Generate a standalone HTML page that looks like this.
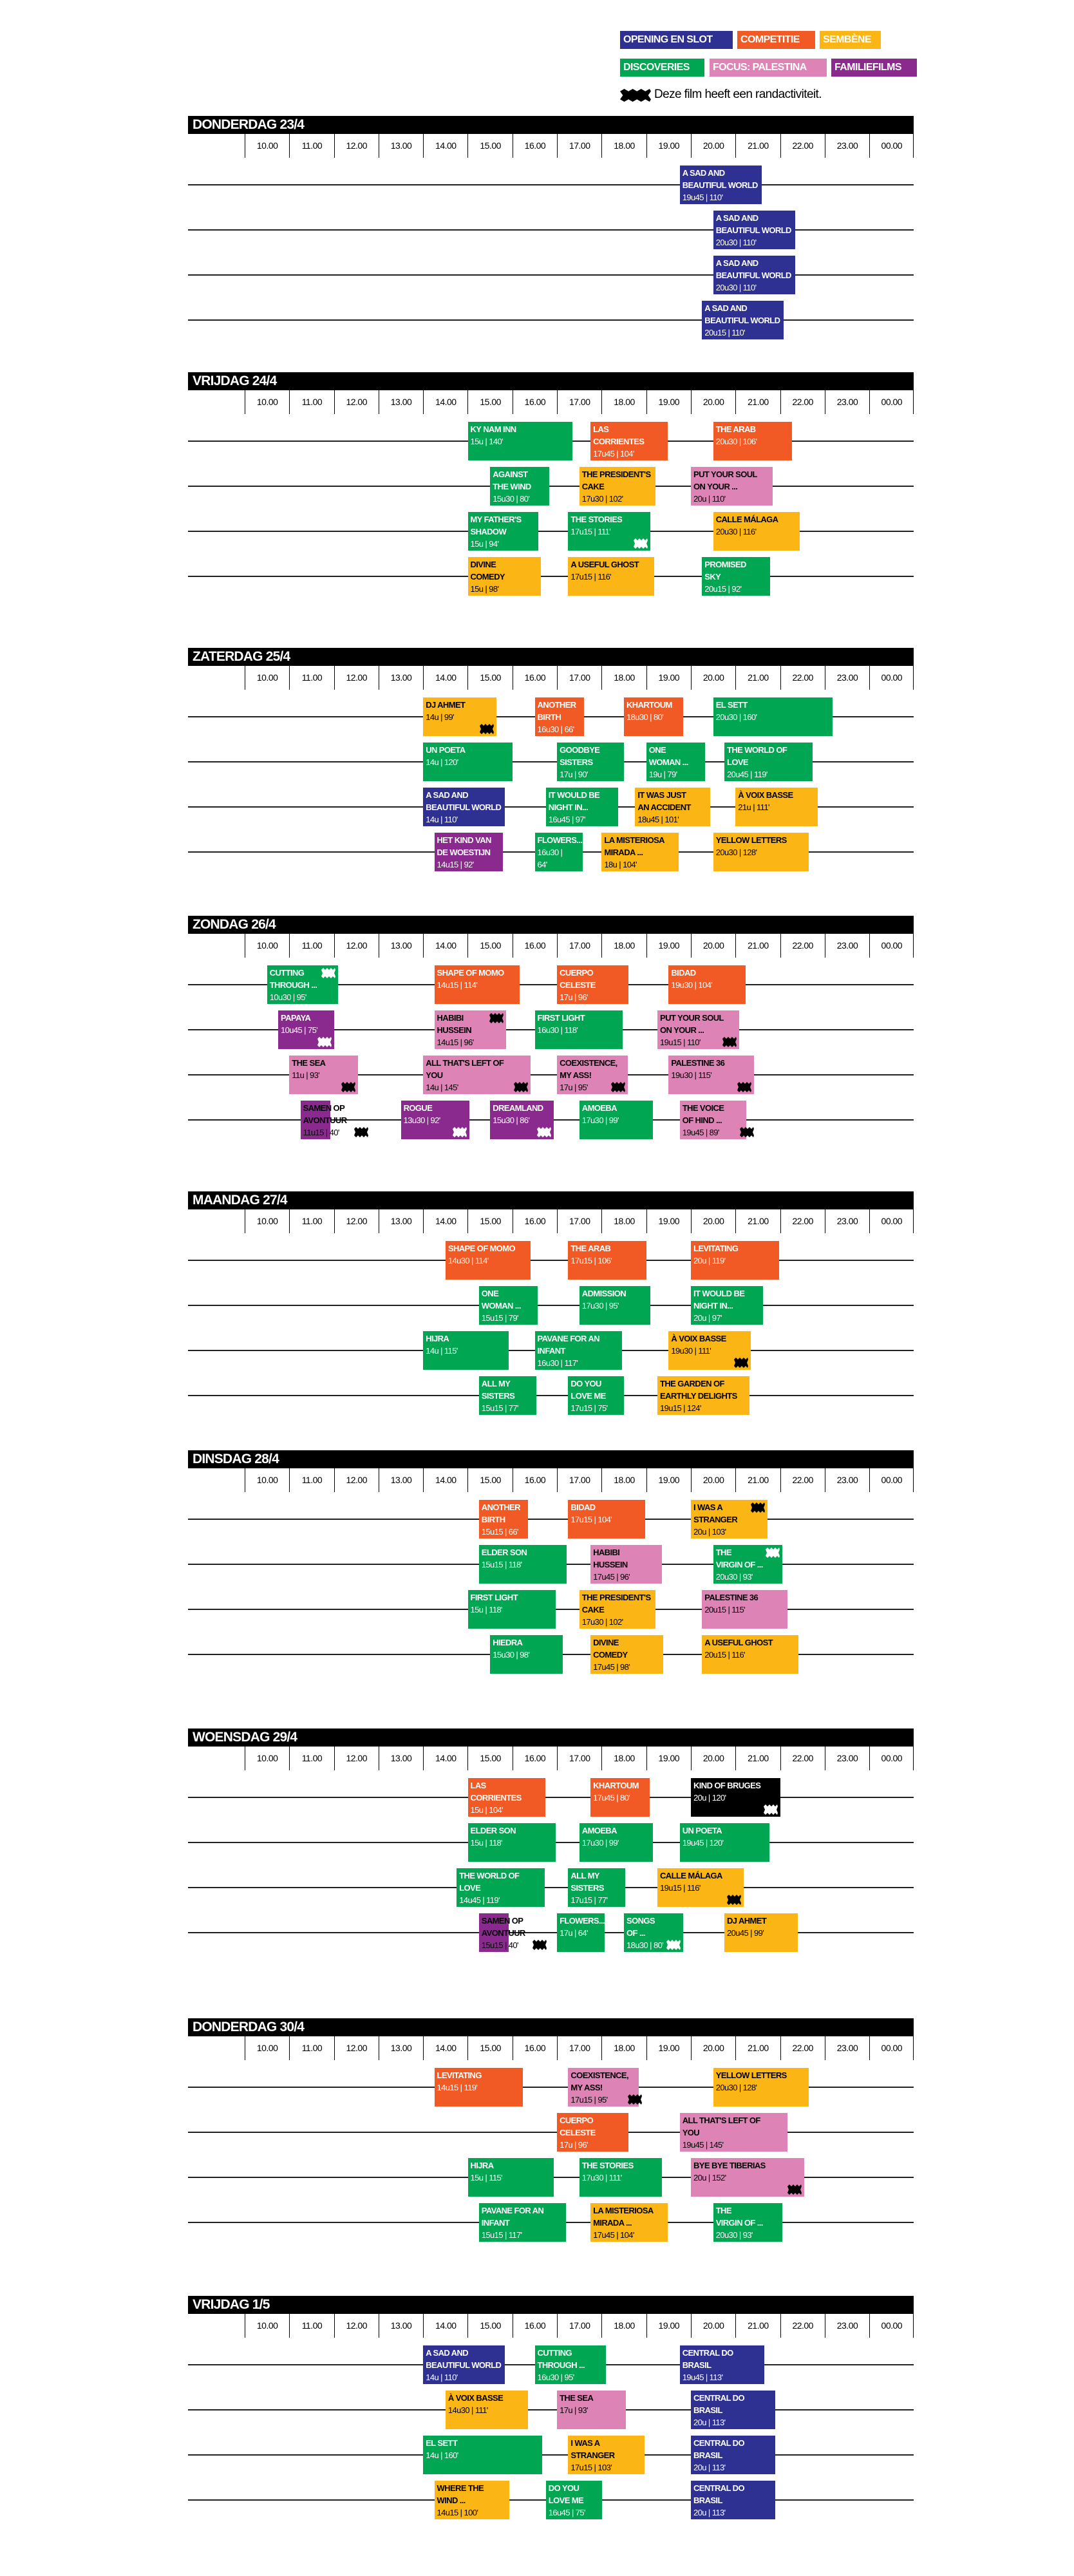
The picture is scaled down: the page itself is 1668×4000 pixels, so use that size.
<!DOCTYPE html>
<html><head><meta charset="utf-8">
<style>
*{margin:0;padding:0;box-sizing:border-box}
body{width:1668px;height:4000px;background:#fff;position:relative;overflow:hidden;font-family:"Liberation Sans Narrow","Liberation Sans",sans-serif}
.lg{position:absolute;height:28px;color:#fff;font-weight:bold;font-size:16px;letter-spacing:-0.6px;line-height:28px;padding-left:5px;white-space:nowrap}
.day{position:absolute;left:292px;width:1127px;height:420px}
.bar{position:absolute;left:0;top:0;width:1127px;height:28px;background:#000;color:#fff;font-weight:bold;font-size:21px;letter-spacing:-0.8px;line-height:28px;padding-left:7px}
.hd{position:absolute;left:88px;top:28px;height:37px;display:flex}
.hd div{width:69.3px;border-left:1px solid #000;text-align:center;font-size:14px;letter-spacing:-0.5px;line-height:37px}
.hd div:last-child{border-right:1px solid #000}
.ln{position:absolute;left:0;width:1127px;height:2px;background:#222}
.b{position:absolute;height:60px;padding:2px 4px;font-size:13px;letter-spacing:-0.6px;line-height:19px;color:#fff;white-space:nowrap;overflow:visible}
.b b{font-weight:bold}
.bl{background:#2e3192}.or{background:#f15a24}.ye{background:#fbb615;color:#000}.gr{background:#00a651}.pk{background:#de83b6;color:#000}.pu{background:#8b2a8e}.bk{background:#000}
.w{position:absolute;right:4px;bottom:3px;width:22px;height:16px}
.wt{top:4px;bottom:auto}
</style></head><body>

<div class="lg" style="left:963px;top:48px;width:175px;background:#2e3192">OPENING EN SLOT</div>
<div class="lg" style="left:1145px;top:48px;width:121px;background:#f15a24">COMPETITIE</div>
<div class="lg" style="left:1273px;top:48px;width:95px;background:#fbb615">SEMBÈNE</div>
<div class="lg" style="left:963px;top:91px;width:131px;background:#00a651">DISCOVERIES</div>
<div class="lg" style="left:1102px;top:91px;width:182px;background:#de83b6">FOCUS: PALESTINA</div>
<div class="lg" style="left:1291px;top:91px;width:133px;background:#8b2a8e">FAMILIEFILMS</div>
<svg style="position:absolute;left:963px;top:138px" width="48" height="20" viewBox="0 0 22 16" preserveAspectRatio="none"><path d="M0,3L3,0L6,3L9,0L12,3L15,0L18,3L21,0L22,3L20,8L22,13L21,16L18,13L15,16L12,13L9,16L6,13L3,16L0,13L2,8Z" fill="#000"/></svg>
<div style="position:absolute;left:1016px;top:135px;font-size:19px;letter-spacing:-0.6px;line-height:24px">Deze film heeft een randactiviteit.</div>

<!-- DAY 1 -->
<div class="day" style="top:180px">
<div class="bar">DONDERDAG 23/4</div>
<div class="hd"><div>10.00</div><div>11.00</div><div>12.00</div><div>13.00</div><div>14.00</div><div>15.00</div><div>16.00</div><div>17.00</div><div>18.00</div><div>19.00</div><div>20.00</div><div>21.00</div><div>22.00</div><div>23.00</div><div>00.00</div></div>
<div class="ln" style="top:106px"></div><div class="ln" style="top:176px"></div><div class="ln" style="top:246px"></div><div class="ln" style="top:316px"></div>
<div class="b bl" style="left:763.7px;top:77px;width:127px"><b>A SAD AND<br>BEAUTIFUL WORLD</b><br>19u45 | 110'</div>
<div class="b bl" style="left:815.7px;top:147px;width:127px"><b>A SAD AND<br>BEAUTIFUL WORLD</b><br>20u30 | 110'</div>
<div class="b bl" style="left:815.7px;top:217px;width:127px"><b>A SAD AND<br>BEAUTIFUL WORLD</b><br>20u30 | 110'</div>
<div class="b bl" style="left:798.3px;top:287px;width:127px"><b>A SAD AND<br>BEAUTIFUL WORLD</b><br>20u15 | 110'</div>
</div>

<!-- DAY 2 -->
<div class="day" style="top:578px">
<div class="bar">VRIJDAG 24/4</div>
<div class="hd"><div>10.00</div><div>11.00</div><div>12.00</div><div>13.00</div><div>14.00</div><div>15.00</div><div>16.00</div><div>17.00</div><div>18.00</div><div>19.00</div><div>20.00</div><div>21.00</div><div>22.00</div><div>23.00</div><div>00.00</div></div>
<div class="ln" style="top:106px"></div><div class="ln" style="top:176px"></div><div class="ln" style="top:246px"></div><div class="ln" style="top:316px"></div>
<div class="b gr" style="left:434.5px;top:77px;width:162px"><b>KY NAM INN</b><br>15u | 140'</div>
<div class="b or" style="left:625.1px;top:77px;width:120px"><b>LAS<br>CORRIENTES</b><br>17u45 | 104'</div>
<div class="b or" style="left:815.7px;top:77px;width:122px"><b>THE ARAB</b><br>20u30 | 106'</div>
<div class="b gr" style="left:469.2px;top:147px;width:92px"><b>AGAINST<br>THE WIND</b><br>15u30 | 80'</div>
<div class="b ye" style="left:607.8px;top:147px;width:118px"><b>THE PRESIDENT'S<br>CAKE</b><br>17u30 | 102'</div>
<div class="b pk" style="left:781px;top:147px;width:127px"><b>PUT YOUR SOUL<br>ON YOUR ...</b><br>20u | 110'</div>
<div class="b gr" style="left:434.5px;top:217px;width:109px"><b>MY FATHER'S<br>SHADOW</b><br>15u | 94'</div>
<div class="b gr" style="left:590.4px;top:217px;width:128px"><b>THE STORIES</b><br>17u15 | 111'<svg class="w" viewBox="0 0 22 16"><path d="M0,3L3,0L6,3L9,0L12,3L15,0L18,3L21,0L22,3L20,8L22,13L21,16L18,13L15,16L12,13L9,16L6,13L3,16L0,13L2,8Z" fill="#fff"/></svg></div>
<div class="b ye" style="left:815.7px;top:217px;width:134px"><b>CALLE MÁLAGA</b><br>20u30 | 116'</div>
<div class="b ye" style="left:434.5px;top:287px;width:113px"><b>DIVINE<br>COMEDY</b><br>15u | 98'</div>
<div class="b ye" style="left:590.4px;top:287px;width:134px"><b>A USEFUL GHOST</b><br>17u15 | 116'</div>
<div class="b gr" style="left:798.3px;top:287px;width:106px"><b>PROMISED<br>SKY</b><br>20u15 | 92'</div>
</div>

<!-- DAY 3 -->
<div class="day" style="top:1006px">
<div class="bar">ZATERDAG 25/4</div>
<div class="hd"><div>10.00</div><div>11.00</div><div>12.00</div><div>13.00</div><div>14.00</div><div>15.00</div><div>16.00</div><div>17.00</div><div>18.00</div><div>19.00</div><div>20.00</div><div>21.00</div><div>22.00</div><div>23.00</div><div>00.00</div></div>
<div class="ln" style="top:106px"></div><div class="ln" style="top:176px"></div><div class="ln" style="top:246px"></div><div class="ln" style="top:316px"></div>
<div class="b ye" style="left:365.2px;top:77px;width:114px"><b>DJ AHMET</b><br>14u | 99'<svg class="w" viewBox="0 0 22 16"><path d="M0,3L3,0L6,3L9,0L12,3L15,0L18,3L21,0L22,3L20,8L22,13L21,16L18,13L15,16L12,13L9,16L6,13L3,16L0,13L2,8Z" fill="#000"/></svg></div>
<div class="b or" style="left:538.5px;top:77px;width:76px"><b>ANOTHER<br>BIRTH</b><br>16u30 | 66'</div>
<div class="b or" style="left:677px;top:77px;width:92px"><b>KHARTOUM</b><br>18u30 | 80'</div>
<div class="b gr" style="left:815.7px;top:77px;width:185px"><b>EL SETT</b><br>20u30 | 160'</div>
<div class="b gr" style="left:365.2px;top:147px;width:139px"><b>UN POETA</b><br>14u | 120'</div>
<div class="b gr" style="left:573.1px;top:147px;width:104px"><b>GOODBYE<br>SISTERS</b><br>17u | 90'</div>
<div class="b gr" style="left:711.7px;top:147px;width:91px"><b>ONE<br>WOMAN ...</b><br>19u | 79'</div>
<div class="b gr" style="left:833px;top:147px;width:137px"><b>THE WORLD OF<br>LOVE</b><br>20u45 | 119'</div>
<div class="b bl" style="left:365.2px;top:217px;width:127px"><b>A SAD AND<br>BEAUTIFUL WORLD</b><br>14u | 110'</div>
<div class="b gr" style="left:555.8px;top:217px;width:112px"><b>IT WOULD BE<br>NIGHT IN...</b><br>16u45 | 97'</div>
<div class="b ye" style="left:694.4px;top:217px;width:117px"><b>IT WAS JUST<br>AN ACCIDENT</b><br>18u45 | 101'</div>
<div class="b ye" style="left:850.3px;top:217px;width:128px"><b>À VOIX BASSE</b><br>21u | 111'</div>
<div class="b pu" style="left:382.5px;top:287px;width:106px"><b>HET KIND VAN<br>DE WOESTIJN</b><br>14u15 | 92'</div>
<div class="b gr" style="left:538.5px;top:287px;width:74px"><b>FLOWERS...</b><br>16u30 |<br>64'</div>
<div class="b ye" style="left:642.4px;top:287px;width:120px"><b>LA MISTERIOSA<br>MIRADA ...</b><br>18u | 104'</div>
<div class="b ye" style="left:815.7px;top:287px;width:148px"><b>YELLOW LETTERS</b><br>20u30 | 128'</div>
</div>

<!-- DAY 4 -->
<div class="day" style="top:1422px">
<div class="bar">ZONDAG 26/4</div>
<div class="hd"><div>10.00</div><div>11.00</div><div>12.00</div><div>13.00</div><div>14.00</div><div>15.00</div><div>16.00</div><div>17.00</div><div>18.00</div><div>19.00</div><div>20.00</div><div>21.00</div><div>22.00</div><div>23.00</div><div>00.00</div></div>
<div class="ln" style="top:106px"></div><div class="ln" style="top:176px"></div><div class="ln" style="top:246px"></div><div class="ln" style="top:316px"></div>
<div class="b gr" style="left:122.7px;top:77px;width:110px"><b>CUTTING<br>THROUGH ...</b><br>10u30 | 95'<svg class="w wt" viewBox="0 0 22 16"><path d="M0,3L3,0L6,3L9,0L12,3L15,0L18,3L21,0L22,3L20,8L22,13L21,16L18,13L15,16L12,13L9,16L6,13L3,16L0,13L2,8Z" fill="#fff"/></svg></div>
<div class="b or" style="left:382.5px;top:77px;width:132px"><b>SHAPE OF MOMO</b><br>14u15 | 114'</div>
<div class="b or" style="left:573.1px;top:77px;width:111px"><b>CUERPO<br>CELESTE</b><br>17u | 96'</div>
<div class="b or" style="left:746.4px;top:77px;width:120px"><b>BIDAD</b><br>19u30 | 104'</div>
<div class="b pu" style="left:140px;top:147px;width:87px"><b>PAPAYA</b><br>10u45 | 75'<svg class="w" viewBox="0 0 22 16"><path d="M0,3L3,0L6,3L9,0L12,3L15,0L18,3L21,0L22,3L20,8L22,13L21,16L18,13L15,16L12,13L9,16L6,13L3,16L0,13L2,8Z" fill="#fff"/></svg></div>
<div class="b pk" style="left:382.5px;top:147px;width:111px"><b>HABIBI<br>HUSSEIN</b><br>14u15 | 96'<svg class="w wt" viewBox="0 0 22 16"><path d="M0,3L3,0L6,3L9,0L12,3L15,0L18,3L21,0L22,3L20,8L22,13L21,16L18,13L15,16L12,13L9,16L6,13L3,16L0,13L2,8Z" fill="#000"/></svg></div>
<div class="b gr" style="left:538.5px;top:147px;width:136px"><b>FIRST LIGHT</b><br>16u30 | 118'</div>
<div class="b pk" style="left:729px;top:147px;width:127px"><b>PUT YOUR SOUL<br>ON YOUR ...</b><br>19u15 | 110'<svg class="w" viewBox="0 0 22 16"><path d="M0,3L3,0L6,3L9,0L12,3L15,0L18,3L21,0L22,3L20,8L22,13L21,16L18,13L15,16L12,13L9,16L6,13L3,16L0,13L2,8Z" fill="#000"/></svg></div>
<div class="b pk" style="left:157.3px;top:217px;width:107px"><b>THE SEA</b><br>11u | 93'<svg class="w" viewBox="0 0 22 16"><path d="M0,3L3,0L6,3L9,0L12,3L15,0L18,3L21,0L22,3L20,8L22,13L21,16L18,13L15,16L12,13L9,16L6,13L3,16L0,13L2,8Z" fill="#000"/></svg></div>
<div class="b pk" style="left:365.2px;top:217px;width:167px"><b>ALL THAT'S LEFT OF<br>YOU</b><br>14u | 145'<svg class="w" viewBox="0 0 22 16"><path d="M0,3L3,0L6,3L9,0L12,3L15,0L18,3L21,0L22,3L20,8L22,13L21,16L18,13L15,16L12,13L9,16L6,13L3,16L0,13L2,8Z" fill="#000"/></svg></div>
<div class="b pk" style="left:573.1px;top:217px;width:110px"><b>COEXISTENCE,<br>MY ASS!</b><br>17u | 95'<svg class="w" viewBox="0 0 22 16"><path d="M0,3L3,0L6,3L9,0L12,3L15,0L18,3L21,0L22,3L20,8L22,13L21,16L18,13L15,16L12,13L9,16L6,13L3,16L0,13L2,8Z" fill="#000"/></svg></div>
<div class="b pk" style="left:746.4px;top:217px;width:133px"><b>PALESTINE 36</b><br>19u30 | 115'<svg class="w" viewBox="0 0 22 16"><path d="M0,3L3,0L6,3L9,0L12,3L15,0L18,3L21,0L22,3L20,8L22,13L21,16L18,13L15,16L12,13L9,16L6,13L3,16L0,13L2,8Z" fill="#000"/></svg></div>
<div class="b pu" style="left:174.6px;top:287px;width:46px;color:#000"><b>SAMEN OP<br>AVONTUUR</b><br>11u15 | 40'</div>
<svg style="position:absolute;left:258px;top:328px" width="22" height="16" viewBox="0 0 22 16"><path d="M0,3L3,0L6,3L9,0L12,3L15,0L18,3L21,0L22,3L20,8L22,13L21,16L18,13L15,16L12,13L9,16L6,13L3,16L0,13L2,8Z" fill="#000"/></svg>
<div class="b pu" style="left:330.6px;top:287px;width:106px"><b>ROGUE</b><br>13u30 | 92'<svg class="w" viewBox="0 0 22 16"><path d="M0,3L3,0L6,3L9,0L12,3L15,0L18,3L21,0L22,3L20,8L22,13L21,16L18,13L15,16L12,13L9,16L6,13L3,16L0,13L2,8Z" fill="#fff"/></svg></div>
<div class="b pu" style="left:469.2px;top:287px;width:99px"><b>DREAMLAND</b><br>15u30 | 86'<svg class="w" viewBox="0 0 22 16"><path d="M0,3L3,0L6,3L9,0L12,3L15,0L18,3L21,0L22,3L20,8L22,13L21,16L18,13L15,16L12,13L9,16L6,13L3,16L0,13L2,8Z" fill="#fff"/></svg></div>
<div class="b gr" style="left:607.8px;top:287px;width:114px"><b>AMOEBA</b><br>17u30 | 99'</div>
<div class="b pk" style="left:763.7px;top:287px;width:103px"><b>THE VOICE<br>OF HIND ...</b><br>19u45 | 89'<svg class="w" style="right:-12px" viewBox="0 0 22 16"><path d="M0,3L3,0L6,3L9,0L12,3L15,0L18,3L21,0L22,3L20,8L22,13L21,16L18,13L15,16L12,13L9,16L6,13L3,16L0,13L2,8Z" fill="#000"/></svg></div>
</div>

<!-- DAY 5 -->
<div class="day" style="top:1850px">
<div class="bar">MAANDAG 27/4</div>
<div class="hd"><div>10.00</div><div>11.00</div><div>12.00</div><div>13.00</div><div>14.00</div><div>15.00</div><div>16.00</div><div>17.00</div><div>18.00</div><div>19.00</div><div>20.00</div><div>21.00</div><div>22.00</div><div>23.00</div><div>00.00</div></div>
<div class="ln" style="top:106px"></div><div class="ln" style="top:176px"></div><div class="ln" style="top:246px"></div><div class="ln" style="top:316px"></div>
<div class="b or" style="left:399.9px;top:77px;width:132px"><b>SHAPE OF MOMO</b><br>14u30 | 114'</div>
<div class="b or" style="left:590.4px;top:77px;width:122px"><b>THE ARAB</b><br>17u15 | 106'</div>
<div class="b or" style="left:781px;top:77px;width:137px"><b>LEVITATING</b><br>20u | 119'</div>
<div class="b gr" style="left:451.8px;top:147px;width:91px"><b>ONE<br>WOMAN ...</b><br>15u15 | 79'</div>
<div class="b gr" style="left:607.8px;top:147px;width:110px"><b>ADMISSION</b><br>17u30 | 95'</div>
<div class="b gr" style="left:781px;top:147px;width:112px"><b>IT WOULD BE<br>NIGHT IN...</b><br>20u | 97'</div>
<div class="b gr" style="left:365.2px;top:217px;width:133px"><b>HIJRA</b><br>14u | 115'</div>
<div class="b gr" style="left:538.5px;top:217px;width:135px"><b>PAVANE FOR AN<br>INFANT</b><br>16u30 | 117'</div>
<div class="b ye" style="left:746.4px;top:217px;width:128px"><b>À VOIX BASSE</b><br>19u30 | 111'<svg class="w" viewBox="0 0 22 16"><path d="M0,3L3,0L6,3L9,0L12,3L15,0L18,3L21,0L22,3L20,8L22,13L21,16L18,13L15,16L12,13L9,16L6,13L3,16L0,13L2,8Z" fill="#000"/></svg></div>
<div class="b gr" style="left:451.8px;top:287px;width:89px"><b>ALL MY<br>SISTERS</b><br>15u15 | 77'</div>
<div class="b gr" style="left:590.4px;top:287px;width:87px"><b>DO YOU<br>LOVE ME</b><br>17u15 | 75'</div>
<div class="b ye" style="left:729px;top:287px;width:143px"><b>THE GARDEN OF<br>EARTHLY DELIGHTS</b><br>19u15 | 124'</div>
</div>

<!-- DAY 6 -->
<div class="day" style="top:2252px">
<div class="bar">DINSDAG 28/4</div>
<div class="hd"><div>10.00</div><div>11.00</div><div>12.00</div><div>13.00</div><div>14.00</div><div>15.00</div><div>16.00</div><div>17.00</div><div>18.00</div><div>19.00</div><div>20.00</div><div>21.00</div><div>22.00</div><div>23.00</div><div>00.00</div></div>
<div class="ln" style="top:106px"></div><div class="ln" style="top:176px"></div><div class="ln" style="top:246px"></div><div class="ln" style="top:316px"></div>
<div class="b or" style="left:451.8px;top:77px;width:76px"><b>ANOTHER<br>BIRTH</b><br>15u15 | 66'</div>
<div class="b or" style="left:590.4px;top:77px;width:120px"><b>BIDAD</b><br>17u15 | 104'</div>
<div class="b ye" style="left:781px;top:77px;width:119px"><b>I WAS A<br>STRANGER</b><br>20u | 103'<svg class="w wt" viewBox="0 0 22 16"><path d="M0,3L3,0L6,3L9,0L12,3L15,0L18,3L21,0L22,3L20,8L22,13L21,16L18,13L15,16L12,13L9,16L6,13L3,16L0,13L2,8Z" fill="#000"/></svg></div>
<div class="b gr" style="left:451.8px;top:147px;width:136px"><b>ELDER SON</b><br>15u15 | 118'</div>
<div class="b pk" style="left:625.1px;top:147px;width:111px"><b>HABIBI<br>HUSSEIN</b><br>17u45 | 96'</div>
<div class="b gr" style="left:815.7px;top:147px;width:107px"><b>THE<br>VIRGIN OF ...</b><br>20u30 | 93'<svg class="w wt" viewBox="0 0 22 16"><path d="M0,3L3,0L6,3L9,0L12,3L15,0L18,3L21,0L22,3L20,8L22,13L21,16L18,13L15,16L12,13L9,16L6,13L3,16L0,13L2,8Z" fill="#fff"/></svg></div>
<div class="b gr" style="left:434.5px;top:217px;width:136px"><b>FIRST LIGHT</b><br>15u | 118'</div>
<div class="b ye" style="left:607.8px;top:217px;width:118px"><b>THE PRESIDENT'S<br>CAKE</b><br>17u30 | 102'</div>
<div class="b pk" style="left:798.3px;top:217px;width:133px"><b>PALESTINE 36</b><br>20u15 | 115'</div>
<div class="b gr" style="left:469.2px;top:287px;width:113px"><b>HIEDRA</b><br>15u30 | 98'</div>
<div class="b ye" style="left:625.1px;top:287px;width:113px"><b>DIVINE<br>COMEDY</b><br>17u45 | 98'</div>
<div class="b ye" style="left:798.3px;top:287px;width:150px"><b>A USEFUL GHOST</b><br>20u15 | 116'</div>
</div>

<!-- DAY 7 -->
<div class="day" style="top:2684px">
<div class="bar">WOENSDAG 29/4</div>
<div class="hd"><div>10.00</div><div>11.00</div><div>12.00</div><div>13.00</div><div>14.00</div><div>15.00</div><div>16.00</div><div>17.00</div><div>18.00</div><div>19.00</div><div>20.00</div><div>21.00</div><div>22.00</div><div>23.00</div><div>00.00</div></div>
<div class="ln" style="top:106px"></div><div class="ln" style="top:176px"></div><div class="ln" style="top:246px"></div><div class="ln" style="top:316px"></div>
<div class="b or" style="left:434.5px;top:77px;width:120px"><b>LAS<br>CORRIENTES</b><br>15u | 104'</div>
<div class="b or" style="left:625.1px;top:77px;width:92px"><b>KHARTOUM</b><br>17u45 | 80'</div>
<div class="b bk" style="left:781px;top:77px;width:139px"><b>KIND OF BRUGES</b><br>20u | 120'<svg class="w" viewBox="0 0 22 16"><path d="M0,3L3,0L6,3L9,0L12,3L15,0L18,3L21,0L22,3L20,8L22,13L21,16L18,13L15,16L12,13L9,16L6,13L3,16L0,13L2,8Z" fill="#fff"/></svg></div>
<div class="b gr" style="left:434.5px;top:147px;width:136px"><b>ELDER SON</b><br>15u | 118'</div>
<div class="b gr" style="left:607.8px;top:147px;width:114px"><b>AMOEBA</b><br>17u30 | 99'</div>
<div class="b gr" style="left:763.7px;top:147px;width:139px"><b>UN POETA</b><br>19u45 | 120'</div>
<div class="b gr" style="left:417.2px;top:217px;width:137px"><b>THE WORLD OF<br>LOVE</b><br>14u45 | 119'</div>
<div class="b gr" style="left:590.4px;top:217px;width:89px"><b>ALL MY<br>SISTERS</b><br>17u15 | 77'</div>
<div class="b ye" style="left:729px;top:217px;width:134px"><b>CALLE MÁLAGA</b><br>19u15 | 116'<svg class="w" viewBox="0 0 22 16"><path d="M0,3L3,0L6,3L9,0L12,3L15,0L18,3L21,0L22,3L20,8L22,13L21,16L18,13L15,16L12,13L9,16L6,13L3,16L0,13L2,8Z" fill="#000"/></svg></div>
<div class="b pu" style="left:451.8px;top:287px;width:46px;color:#000"><b>SAMEN OP<br>AVONTUUR</b><br>15u15 | 40'</div>
<svg style="position:absolute;left:535px;top:328px" width="22" height="16" viewBox="0 0 22 16"><path d="M0,3L3,0L6,3L9,0L12,3L15,0L18,3L21,0L22,3L20,8L22,13L21,16L18,13L15,16L12,13L9,16L6,13L3,16L0,13L2,8Z" fill="#000"/></svg>
<div class="b gr" style="left:573.1px;top:287px;width:74px"><b>FLOWERS...</b><br>17u | 64'</div>
<div class="b gr" style="left:677px;top:287px;width:92px"><b>SONGS<br>OF ...</b><br>18u30 | 80'<svg class="w" viewBox="0 0 22 16"><path d="M0,3L3,0L6,3L9,0L12,3L15,0L18,3L21,0L22,3L20,8L22,13L21,16L18,13L15,16L12,13L9,16L6,13L3,16L0,13L2,8Z" fill="#fff"/></svg></div>
<div class="b ye" style="left:833px;top:287px;width:114px"><b>DJ AHMET</b><br>20u45 | 99'</div>
</div>

<!-- DAY 8 -->
<div class="day" style="top:3134px">
<div class="bar">DONDERDAG 30/4</div>
<div class="hd"><div>10.00</div><div>11.00</div><div>12.00</div><div>13.00</div><div>14.00</div><div>15.00</div><div>16.00</div><div>17.00</div><div>18.00</div><div>19.00</div><div>20.00</div><div>21.00</div><div>22.00</div><div>23.00</div><div>00.00</div></div>
<div class="ln" style="top:106px"></div><div class="ln" style="top:176px"></div><div class="ln" style="top:246px"></div><div class="ln" style="top:316px"></div>
<div class="b or" style="left:382.5px;top:77px;width:137px"><b>LEVITATING</b><br>14u15 | 119'</div>
<div class="b pk" style="left:590.4px;top:77px;width:110px"><b>COEXISTENCE,<br>MY ASS!</b><br>17u15 | 95'<svg class="w" style="right:-5px" viewBox="0 0 22 16"><path d="M0,3L3,0L6,3L9,0L12,3L15,0L18,3L21,0L22,3L20,8L22,13L21,16L18,13L15,16L12,13L9,16L6,13L3,16L0,13L2,8Z" fill="#000"/></svg></div>
<div class="b ye" style="left:815.7px;top:77px;width:148px"><b>YELLOW LETTERS</b><br>20u30 | 128'</div>
<div class="b or" style="left:573.1px;top:147px;width:111px"><b>CUERPO<br>CELESTE</b><br>17u | 96'</div>
<div class="b pk" style="left:763.7px;top:147px;width:167px"><b>ALL THAT'S LEFT OF<br>YOU</b><br>19u45 | 145'</div>
<div class="b gr" style="left:434.5px;top:217px;width:133px"><b>HIJRA</b><br>15u | 115'</div>
<div class="b gr" style="left:607.8px;top:217px;width:128px"><b>THE STORIES</b><br>17u30 | 111'</div>
<div class="b pk" style="left:781px;top:217px;width:176px"><b>BYE BYE TIBERIAS</b><br>20u | 152'<svg class="w" viewBox="0 0 22 16"><path d="M0,3L3,0L6,3L9,0L12,3L15,0L18,3L21,0L22,3L20,8L22,13L21,16L18,13L15,16L12,13L9,16L6,13L3,16L0,13L2,8Z" fill="#000"/></svg></div>
<div class="b gr" style="left:451.8px;top:287px;width:135px"><b>PAVANE FOR AN<br>INFANT</b><br>15u15 | 117'</div>
<div class="b ye" style="left:625.1px;top:287px;width:120px"><b>LA MISTERIOSA<br>MIRADA ...</b><br>17u45 | 104'</div>
<div class="b gr" style="left:815.7px;top:287px;width:107px"><b>THE<br>VIRGIN OF ...</b><br>20u30 | 93'</div>
</div>

<!-- DAY 9 -->
<div class="day" style="top:3565px">
<div class="bar">VRIJDAG 1/5</div>
<div class="hd"><div>10.00</div><div>11.00</div><div>12.00</div><div>13.00</div><div>14.00</div><div>15.00</div><div>16.00</div><div>17.00</div><div>18.00</div><div>19.00</div><div>20.00</div><div>21.00</div><div>22.00</div><div>23.00</div><div>00.00</div></div>
<div class="ln" style="top:106px"></div><div class="ln" style="top:176px"></div><div class="ln" style="top:246px"></div><div class="ln" style="top:316px"></div>
<div class="b bl" style="left:365.2px;top:77px;width:127px"><b>A SAD AND<br>BEAUTIFUL WORLD</b><br>14u | 110'</div>
<div class="b gr" style="left:538.5px;top:77px;width:110px"><b>CUTTING<br>THROUGH ...</b><br>16u30 | 95'</div>
<div class="b bl" style="left:763.7px;top:77px;width:131px"><b>CENTRAL DO<br>BRASIL</b><br>19u45 | 113'</div>
<div class="b ye" style="left:399.9px;top:147px;width:128px"><b>À VOIX BASSE</b><br>14u30 | 111'</div>
<div class="b pk" style="left:573.1px;top:147px;width:107px"><b>THE SEA</b><br>17u | 93'</div>
<div class="b bl" style="left:781px;top:147px;width:131px"><b>CENTRAL DO<br>BRASIL</b><br>20u | 113'</div>
<div class="b gr" style="left:365.2px;top:217px;width:185px"><b>EL SETT</b><br>14u | 160'</div>
<div class="b ye" style="left:590.4px;top:217px;width:119px"><b>I WAS A<br>STRANGER</b><br>17u15 | 103'</div>
<div class="b bl" style="left:781px;top:217px;width:131px"><b>CENTRAL DO<br>BRASIL</b><br>20u | 113'</div>
<div class="b ye" style="left:382.5px;top:287px;width:116px"><b>WHERE THE<br>WIND ...</b><br>14u15 | 100'</div>
<div class="b gr" style="left:555.8px;top:287px;width:87px"><b>DO YOU<br>LOVE ME</b><br>16u45 | 75'</div>
<div class="b bl" style="left:781px;top:287px;width:131px"><b>CENTRAL DO<br>BRASIL</b><br>20u | 113'</div>
</div>

</body></html>
